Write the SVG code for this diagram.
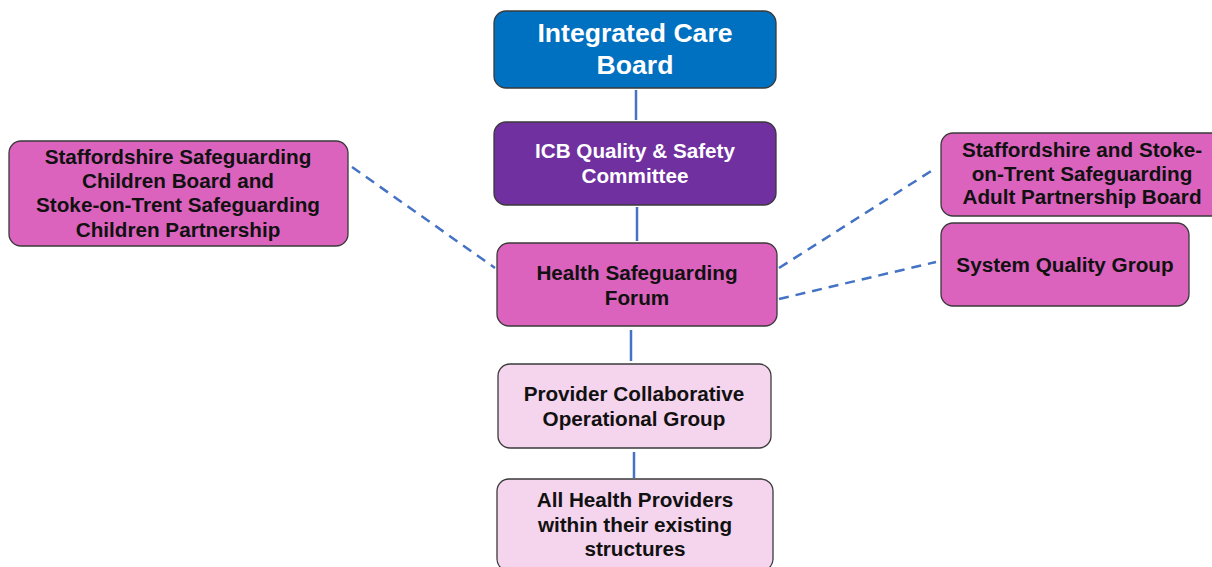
<svg xmlns="http://www.w3.org/2000/svg" width="1212" height="567" viewBox="0 0 1212 567">
  <style>
    .box { stroke: #3a3a3a; stroke-width: 1.3; }
    .t { font-family: "Liberation Sans", Arial, sans-serif; font-weight: bold; font-size: 20.7px; text-anchor: middle; fill: #111; }
    .w { fill: #fff; }
    .big { font-size: 26.6px; }
    .link { stroke: #4472C4; stroke-width: 2.5; fill: none; }
    .dash { stroke: #4472C4; stroke-width: 2.5; fill: none; stroke-dasharray: 10 7; }
  </style>
  <rect width="1212" height="567" fill="#fff"/>

  <g id="connectors">
    <line class="link" x1="636" y1="90" x2="636" y2="120"/>
    <line class="link" x1="637" y1="207" x2="637" y2="241"/>
    <line class="link" x1="631" y1="330" x2="631" y2="361"/>
    <line class="link" x1="634" y1="452" x2="634" y2="478"/>
    <line class="dash" x1="352" y1="167" x2="495" y2="268"/>
    <line class="dash" x1="779" y1="268" x2="936" y2="168"/>
    <line class="dash" x1="779" y1="299" x2="936" y2="262"/>
  </g>

  <g id="icb">
    <rect class="box" x="494" y="11" width="282" height="77" rx="12" fill="#0070C0"/>
    <text class="t w big" x="635" y="42">Integrated Care</text>
    <text class="t w big" x="635" y="74">Board</text>
  </g>

  <g id="quality-safety">
    <rect class="box" x="494" y="122" width="282" height="83" rx="12" fill="#7030A0"/>
    <text class="t w" x="635" y="158">ICB Quality &amp; Safety</text>
    <text class="t w" x="635" y="183">Committee</text>
  </g>

  <g id="safeguarding-forum">
    <rect class="box" x="497" y="243" width="280" height="83" rx="12" fill="#DB63BE"/>
    <text class="t" x="637" y="280">Health Safeguarding</text>
    <text class="t" x="637" y="305">Forum</text>
  </g>

  <g id="provider-group">
    <rect class="box" x="498" y="364" width="273" height="84" rx="12" fill="#F5D4EE"/>
    <text class="t" x="634" y="401">Provider Collaborative</text>
    <text class="t" x="634" y="426">Operational Group</text>
  </g>

  <g id="health-providers">
    <rect class="box" x="497" y="479" width="276" height="92" rx="12" fill="#F5D4EE"/>
    <text class="t" x="635" y="507">All Health Providers</text>
    <text class="t" x="635" y="532">within their existing</text>
    <text class="t" x="635" y="556">structures</text>
  </g>

  <g id="children-board">
    <rect class="box" x="9" y="141" width="339" height="105" rx="12" fill="#DB63BE"/>
    <text class="t" x="178" y="163.5">Staffordshire Safeguarding</text>
    <text class="t" x="178" y="188">Children Board and</text>
    <text class="t" x="178" y="212">Stoke-on-Trent Safeguarding</text>
    <text class="t" x="178" y="236.5">Children Partnership</text>
  </g>

  <g id="adult-board">
    <rect class="box" x="941" y="133" width="290" height="83" rx="12" fill="#DB63BE"/>
    <text class="t" x="1082" y="157">Staffordshire and Stoke-</text>
    <text class="t" x="1082" y="180.5">on-Trent Safeguarding</text>
    <text class="t" x="1082" y="204">Adult Partnership Board</text>
  </g>

  <g id="system-quality">
    <rect class="box" x="941" y="223" width="248" height="83" rx="12" fill="#DB63BE"/>
    <text class="t" x="1065" y="272">System Quality Group</text>
  </g>
</svg>
